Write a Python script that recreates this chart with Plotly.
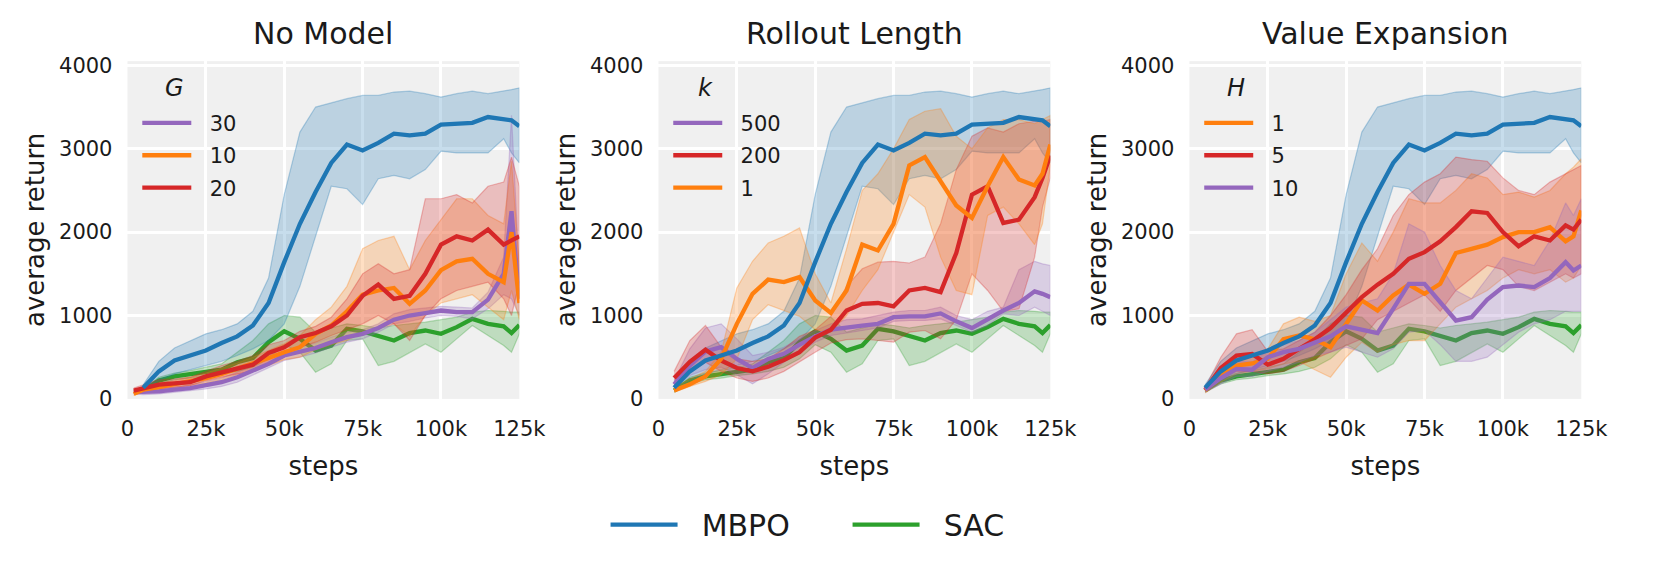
import plotly.graph_objects as go

# training steps at which the curves were sampled
STEPS = [5000, 10000, 15000, 20000, 25000, 30000, 35000, 40000, 45000, 50000,
         55000, 60000, 65000, 70000, 75000, 80000, 85000, 90000, 95000, 100000,
         105000, 110000, 115000, 120000, 122500, 125000]
STEPS_G = [2000, 5000, 10000, 15000, 20000, 25000, 30000, 35000, 40000, 45000,
           50000, 55000, 60000, 65000, 70000, 75000, 80000, 85000, 90000, 95000,
           100000, 105000, 110000, 115000, 120000, 122500, 125000]

XTICKS = [0, 25000, 50000, 75000, 100000, 125000]
XTICK_LABELS = ["0", "25k", "50k", "75k", "100k", "125k"]
YTICKS = [0, 1000, 2000, 3000, 4000]
YTICK_LABELS = ["0", "1000", "2000", "3000", "4000"]

TITLES = ["No Model", "Rollout Length", "Value Expansion"]
SYMBOLS = ["G", "k", "H"]

# baselines (same in every panel)
MBPO_MEAN = [135, 330, 460, 520, 580, 670, 750, 880, 1150, 1640, 2100, 2480, 2830,
             3050, 2980, 3070, 3180, 3160, 3180, 3290, 3300, 3310, 3380, 3360, 3340, 3270]
MBPO_HI = [170, 450, 610, 700, 780, 830, 900, 1050, 1450, 2450, 3200, 3500, 3550,
           3600, 3640, 3640, 3680, 3690, 3660, 3620, 3660, 3690, 3660, 3690, 3710, 3730]
MBPO_LO = [100, 220, 300, 350, 400, 450, 520, 600, 700, 900, 1350, 1950, 2550,
           2520, 2330, 2640, 2680, 2640, 2750, 2970, 2950, 2950, 2950, 3120, 2950, 2830]

SAC_MEAN = [100, 220, 270, 295, 330, 350, 440, 490, 680, 810, 720, 580, 640,
            840, 810, 750, 700, 790, 820, 780, 860, 960, 900, 870, 790, 885]
SAC_HI = [120, 260, 310, 340, 380, 420, 560, 700, 900, 1000, 980, 800, 850,
          900, 880, 850, 880, 900, 920, 950, 980, 1040, 1060, 1050, 1040, 1040]
SAC_LO = [80, 180, 230, 250, 280, 300, 330, 380, 480, 650, 560, 320, 420,
          700, 720, 400, 450, 560, 660, 560, 720, 880, 760, 640, 560, 780]

# No Model: G
G30_MEAN = [80, 80, 90, 110, 130, 165, 200, 260, 340, 420, 520, 560, 610, 680,
            740, 780, 850, 950, 1000, 1030, 1060, 1040, 1040, 1190, 1500, 2250, 1200]
G30_HI = [100, 110, 120, 140, 170, 210, 250, 320, 400, 480, 580, 620, 670, 740,
          800, 830, 900, 1020, 1070, 1090, 1110, 1100, 1090, 1280, 1700, 3400, 1500]
G30_LO = [60, 50, 60, 80, 100, 120, 150, 200, 280, 370, 460, 500, 550, 620,
          680, 720, 800, 900, 930, 970, 1000, 990, 960, 1080, 1250, 1200, 1000]
G10_MEAN = [60, 110, 140, 175, 210, 250, 300, 360, 420, 490, 560, 620, 780, 880,
            1050, 1250, 1300, 1330, 1140, 1300, 1545, 1650, 1680, 1500, 1400, 2000, 1150]
G10_HI = [80, 140, 190, 220, 260, 310, 370, 430, 500, 580, 660, 760, 950, 1100,
          1350, 1800, 1900, 1950, 1550, 1900, 2150, 2400, 2400, 2200, 2100, 2850, 1600]
G10_LO = [40, 80, 100, 130, 160, 190, 230, 290, 340, 400, 470, 500, 590, 650,
          700, 800, 850, 900, 750, 1000, 1150, 1200, 1250, 1100, 950, 1300, 950]
G20_MEAN = [100, 130, 170, 185, 200, 270, 320, 365, 410, 550, 620, 740, 790, 870,
            1000, 1236, 1371, 1200, 1236, 1500, 1850, 1950, 1900, 2030, 1850, 1900, 1950]
G20_HI = [130, 170, 230, 240, 260, 330, 400, 450, 520, 650, 700, 810, 870, 980,
          1200, 1500, 1620, 1500, 1550, 2400, 2400, 2450, 2350, 2550, 2600, 2900, 2550]
G20_LO = [70, 100, 120, 140, 160, 220, 260, 300, 330, 430, 520, 620, 680, 760,
          830, 900, 1000, 900, 700, 1000, 1200, 1300, 1350, 1400, 1200, 1000, 1400]

# Rollout Length: k
K500_MEAN = [175, 400, 570, 620, 480, 370, 480, 540, 650, 750, 830, 860, 880,
             900, 980, 990, 990, 1025, 930, 850, 960, 1060, 1150, 1290, 1260, 1220]
K500_HI = [220, 600, 850, 900, 720, 520, 560, 620, 720, 820, 900, 950, 960,
           1000, 1040, 1060, 1060, 1100, 1000, 950, 1050, 1100, 1550, 1650, 1620, 1600]
K500_LO = [130, 280, 350, 380, 290, 180, 300, 440, 560, 680, 760, 790, 820,
           850, 930, 940, 940, 960, 880, 800, 880, 1020, 1000, 1100, 1050, 1000]
K200_MEAN = [250, 445, 590, 460, 370, 330, 385, 465, 560, 735, 830, 1060, 1140,
             1150, 1110, 1300, 1330, 1280, 1750, 2450, 2550, 2110, 2150, 2420, 2650, 2920]
K200_HI = [330, 700, 880, 620, 480, 450, 480, 600, 750, 830, 990, 1350, 1560,
           1640, 1650, 1630, 1700, 2100, 2750, 3150, 3250, 3200, 3300, 3330, 3330, 3350]
K200_LO = [170, 330, 440, 330, 250, 210, 250, 330, 440, 560, 670, 710, 720,
           700, 680, 800, 820, 720, 950, 1500, 1300, 1050, 1080, 1700, 2300, 2650]
K1_MEAN = [100, 175, 270, 480, 900, 1260, 1430, 1400, 1460, 1180, 1030, 1300, 1850,
           1780, 2100, 2800, 2900, 2620, 2320, 2170, 2550, 2900, 2630, 2560, 2700, 3050]
K1_HI = [130, 240, 330, 560, 1330, 1650, 1870, 1950, 2050, 1500, 1150, 1800, 2500,
         2700, 3000, 3350, 3450, 3480, 3150, 3000, 3250, 3350, 3350, 3300, 3350, 3400]
K1_LO = [80, 150, 210, 290, 480, 950, 1130, 1060, 990, 830, 800, 1000, 1300,
         1550, 2000, 2450, 2300, 1700, 1300, 1250, 2200, 2300, 2100, 1850, 2100, 2800]

# Value Expansion: H
H1_MEAN = [100, 290, 400, 425, 480, 715, 760, 715, 620, 910, 1180, 1060, 1240,
           1370, 1260, 1380, 1750, 1800, 1850, 1940, 2000, 2000, 2060, 1890, 1950, 2260]
H1_HI = [130, 380, 480, 520, 600, 900, 980, 930, 1000, 1500, 1870, 1650, 2000,
         2400, 2350, 2350, 2500, 2700, 2650, 2450, 2480, 2420, 2500, 2700, 2780, 2880]
H1_LO = [70, 200, 300, 330, 360, 420, 450, 350, 260, 500, 680, 560, 650,
         700, 700, 900, 1100, 1200, 1300, 1450, 1550, 1500, 1550, 1400, 1450, 1600]
H5_MEAN = [110, 370, 520, 540, 410, 480, 600, 715, 850, 1040, 1220, 1370, 1500,
           1680, 1760, 1890, 2060, 2250, 2230, 2000, 1830, 1950, 1900, 2080, 2030, 2150]
H5_HI = [140, 500, 780, 830, 570, 600, 700, 800, 1000, 1250, 1550, 1800, 2200,
         2450, 2600, 2700, 2900, 2870, 2850, 2650, 2500, 2450, 2600, 2700, 2750, 2800]
H5_LO = [90, 250, 330, 330, 300, 330, 400, 480, 560, 640, 720, 950, 1050,
         1150, 1250, 1050, 1300, 1450, 1600, 1550, 1350, 1300, 1400, 1500, 1450, 1500]
H10_MEAN = [110, 250, 360, 350, 500, 560, 600, 670, 750, 870, 830, 790, 1080,
            1380, 1380, 1150, 940, 980, 1190, 1340, 1360, 1340, 1450, 1640, 1540, 1600]
H10_HI = [150, 330, 450, 440, 580, 650, 700, 800, 950, 1100, 1150, 1200, 1500,
          2100, 2000, 1600, 1300, 1200, 1450, 1700, 1650, 1600, 1900, 2350, 2200, 2400]
H10_LO = [80, 180, 270, 270, 330, 380, 440, 520, 560, 620, 560, 500, 600,
          800, 820, 650, 450, 450, 500, 650, 800, 900, 950, 1050, 1050, 1050]

BLUE, ORANGE, GREEN, RED, PURPLE = "#1f77b4", "#ff7f0e", "#2ca02c", "#d62728", "#9467bd"

VARIANTS = [
    (STEPS_G, [("30", PURPLE, G30_MEAN, G30_LO, G30_HI),
               ("10", ORANGE, G10_MEAN, G10_LO, G10_HI),
               ("20", RED, G20_MEAN, G20_LO, G20_HI)]),
    (STEPS, [("500", PURPLE, K500_MEAN, K500_LO, K500_HI),
             ("200", RED, K200_MEAN, K200_LO, K200_HI),
             ("1", ORANGE, K1_MEAN, K1_LO, K1_HI)]),
    (STEPS, [("1", ORANGE, H1_MEAN, H1_LO, H1_HI),
             ("5", RED, H5_MEAN, H5_LO, H5_HI),
             ("10", PURPLE, H10_MEAN, H10_LO, H10_HI)]),
]

W, H = 1670, 587
FONT = "DejaVu Sans"
NB = "\u00a0"  # keeps a bit of room between legend line and label


def rgba(c, a):
    return "rgba(%d,%d,%d,%s)" % (int(c[1:3], 16), int(c[3:5], 16), int(c[5:7], 16), a)


def band(x, lo, hi, color, ax):
    return go.Scatter(
        x=list(x) + list(x)[::-1], y=list(hi) + list(lo)[::-1],
        fill="toself", fillcolor=rgba(color, 0.25),
        line=dict(color=rgba(color, 0.3), width=1.2),
        mode="lines", hoverinfo="skip", showlegend=False,
        xaxis="x" + ax, yaxis="y" + ax)


def mean_line(x, y, color, name, ax, legend, show, group, rank=1000):
    return go.Scatter(
        x=x, y=y, mode="lines", name=name, legendgroup=group,
        line=dict(color=color, width=4.3),
        legend=legend, showlegend=show, legendrank=rank,
        xaxis="x" + ax, yaxis="y" + ax)


fig = go.Figure()
for i, (xs, variants) in enumerate(VARIANTS):
    ax = "" if i == 0 else str(i + 1)
    leg = "legend" if i == 0 else "legend%d" % (i + 1)
    fig.add_trace(band(STEPS, SAC_LO, SAC_HI, GREEN, ax))
    fig.add_trace(mean_line(STEPS, SAC_MEAN, GREEN, NB * 2 + "SAC", ax,
                            "legend4", i == 0, "sac", 2))
    fig.add_trace(band(STEPS, MBPO_LO, MBPO_HI, BLUE, ax))
    for name, color, m, lo, hi in variants:
        fig.add_trace(band(xs, lo, hi, color, ax))
    for name, color, m, lo, hi in variants:
        fig.add_trace(mean_line(xs, m, color, NB * 2 + name, ax, leg, True,
                                "p%d-%s" % (i, name)))
    fig.add_trace(mean_line(STEPS, MBPO_MEAN, BLUE, NB * 2 + "MBPO", ax,
                            "legend4", i == 0, "mbpo", 1))

PANEL_LEFT = [123, 665, 1207]
PANEL_W = 400
Y_DOM = [1 - 405 / H, 1 - 56 / H]

layout = dict(
    width=W, height=H,
    margin=dict(l=0, r=0, t=0, b=0),
    paper_bgcolor="white", plot_bgcolor="#f0f0f0",
    font=dict(family=FONT, color="#1a1a1a"),
    annotations=[],
)

for i, left in enumerate(PANEL_LEFT):
    ax = "" if i == 0 else str(i + 1)
    dom = [left / W, (left + PANEL_W) / W]
    layout["xaxis" + ax] = dict(
        domain=dom, anchor="y" + ax, range=[0, 125000],
        tickvals=XTICKS, ticktext=XTICK_LABELS, tickfont=dict(size=21),
        showgrid=True, gridcolor="white", gridwidth=3, zeroline=False,
        showline=False, ticks="", ticklabelstandoff=15,
        title=dict(text="steps", font=dict(size=26), standoff=16))
    layout["yaxis" + ax] = dict(
        domain=Y_DOM, anchor="x" + ax, range=[0, 4050],
        tickvals=YTICKS, ticktext=YTICK_LABELS, tickfont=dict(size=21),
        showgrid=True, gridcolor="white", gridwidth=3, zeroline=False,
        showline=False, ticks="", ticklabelstandoff=14)
    # y axis label, placed by hand to sit close to the tick labels
    layout["annotations"].append(dict(
        text="average return", textangle=-90, x=(left - 95) / W,
        y=1 - 230 / H, xref="paper", yref="paper", xanchor="center",
        yanchor="middle", showarrow=False, font=dict(size=26)))
    # panel title
    layout["annotations"].append(dict(
        text=TITLES[i], x=(left + PANEL_W / 2) / W, y=1 - 27 / H,
        xref="paper", yref="paper", xanchor="center", yanchor="middle",
        showarrow=False, font=dict(size=30)))
    # legend heading (italic symbol)
    layout["annotations"].append(dict(
        text="<i>%s</i>" % SYMBOLS[i], x=(left + 48) / W, y=1 - 84 / H,
        xref="paper", yref="paper", xanchor="center", yanchor="middle",
        showarrow=False, font=dict(size=24)))
    leg = "legend" if i == 0 else "legend%d" % (i + 1)
    layout[leg] = dict(
        x=(left + 10) / W, y=1 - 99 / H, xanchor="left", yanchor="top",
        bgcolor="rgba(0,0,0,0)", font=dict(size=21), itemwidth=49,
        traceorder="grouped", tracegroupgap=2)

layout["legend4"] = dict(
    orientation="h", x=611 / W, xanchor="left", y=1 - 535 / H, yanchor="middle",
    bgcolor="rgba(0,0,0,0)", font=dict(size=30), itemwidth=67,
    entrywidth=160, traceorder="grouped")

fig.update_layout(**layout)

# drop the default page margin so the figure sits at the window corner
fig.write_html("out.html", post_script="document.body.style.margin = '0px';",
               config={"displayModeBar": False})
